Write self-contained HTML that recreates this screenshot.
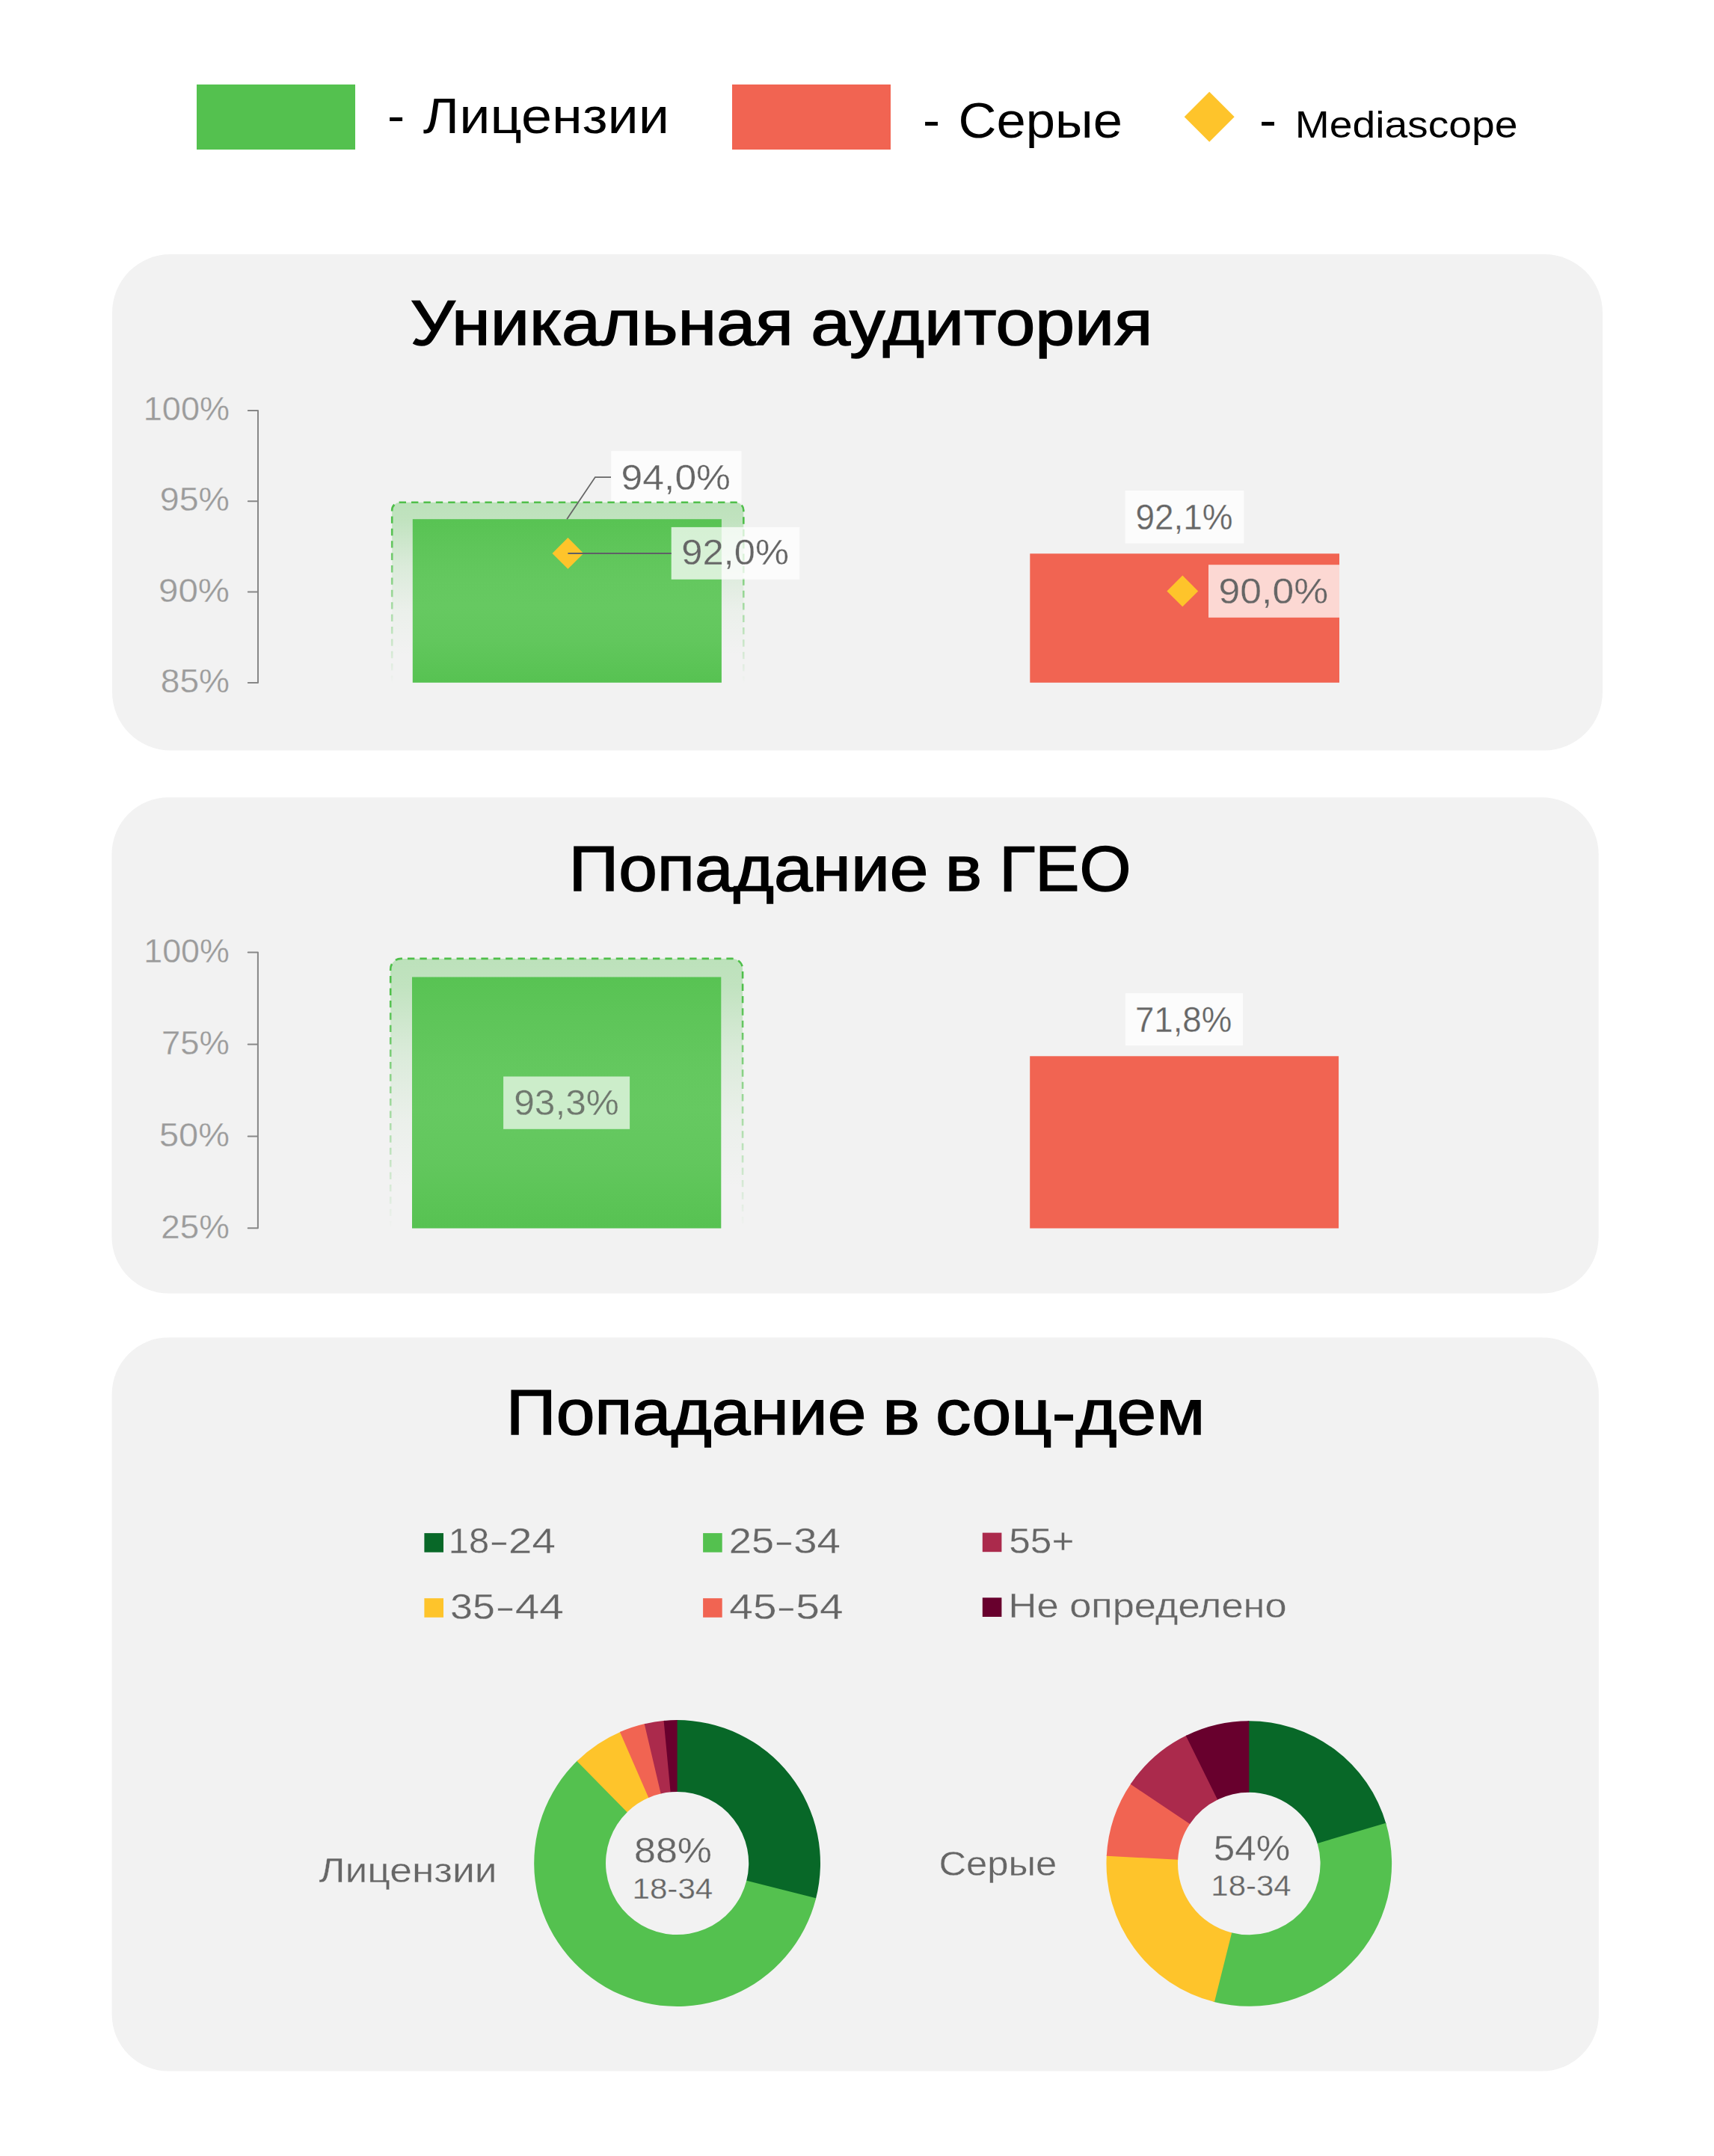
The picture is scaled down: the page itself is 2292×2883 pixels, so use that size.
<!DOCTYPE html>
<html lang="ru">
<head>
<meta charset="utf-8">
<title>Уникальная аудитория</title>
<style>
html,body{margin:0;padding:0;background:#fff;}
body{width:2292px;height:2883px;overflow:hidden;}
svg{display:block;font-family:"Liberation Sans",sans-serif;}
</style>
</head>
<body>
<svg width="2292" height="2883" viewBox="0 0 2292 2883">
<defs>
<linearGradient id="halo" x1="0" y1="0" x2="0" y2="1">
<stop offset="0" stop-color="#54c14f" stop-opacity="0.34"/>
<stop offset="0.1" stop-color="#54c14f" stop-opacity="0.31"/>
<stop offset="0.35" stop-color="#54c14f" stop-opacity="0.15"/>
<stop offset="0.6" stop-color="#54c14f" stop-opacity="0.045"/>
<stop offset="0.85" stop-color="#54c14f" stop-opacity="0"/>
</linearGradient>
<linearGradient id="halos" x1="0" y1="0" x2="0" y2="1">
<stop offset="0" stop-color="#4fbf4a" stop-opacity="1"/>
<stop offset="0.12" stop-color="#4fbf4a" stop-opacity="1"/>
<stop offset="0.5" stop-color="#54c14f" stop-opacity="0.55"/>
<stop offset="1" stop-color="#54c14f" stop-opacity="0"/>
</linearGradient>
<linearGradient id="gbar" x1="0" y1="0" x2="0" y2="1">
<stop offset="0" stop-color="#58c353"/>
<stop offset="0.16" stop-color="#5ec559"/>
<stop offset="0.37" stop-color="#64c85f"/>
<stop offset="0.53" stop-color="#66c961"/>
<stop offset="0.74" stop-color="#62c75d"/>
<stop offset="0.9" stop-color="#5bc456"/>
<stop offset="1" stop-color="#57c252"/>
</linearGradient>
<linearGradient id="bg92" gradientUnits="userSpaceOnUse" x1="897.7" y1="0" x2="1069.2" y2="0">
<stop offset="0" stop-color="#d7f1d6"/><stop offset="0.3918" stop-color="#d7f1d6"/>
<stop offset="0.3918" stop-color="#f3f9f3"/><stop offset="0.5633" stop-color="#f3f9f3"/>
<stop offset="0.5633" stop-color="#fcfcfc"/><stop offset="1" stop-color="#fcfcfc"/>
</linearGradient>
</defs>

<rect x="263" y="113" width="212" height="87" fill="#54c14f"/>
<text y="178.00" fill="#000"><tspan x="518.01" y="176.70" font-size="64" textLength="23.19" lengthAdjust="spacingAndGlyphs">-</tspan> <tspan x="565.85" y="178.00" font-size="66.5" textLength="329.25" lengthAdjust="spacingAndGlyphs">Лицензии</tspan></text>
<rect x="979" y="113" width="212" height="87" fill="#f16452"/>
<text y="184.00" fill="#000"><tspan x="1233.92" y="182.90" font-size="64" textLength="23.05" lengthAdjust="spacingAndGlyphs">-</tspan> <tspan x="1281.41" y="184.00" font-size="66.5" textLength="219.52" lengthAdjust="spacingAndGlyphs">Серые</tspan></text>
<path d="M1617.2 122.8L1650.7 156.3L1617.2 189.8L1583.7 156.3Z" fill="#fec42b"/>
<text y="184.00" fill="#000"><tspan x="1683.92" y="182.90" font-size="64" textLength="23.05" lengthAdjust="spacingAndGlyphs">-</tspan> <tspan x="1731.77" y="184.00" font-size="50.5" textLength="297.68" lengthAdjust="spacingAndGlyphs">Mediascope</tspan></text>
<rect x="150" y="340" width="1993" height="663.4" rx="78" fill="#f2f2f2"/>
<rect x="149.4" y="1066.3" width="1988.3" height="663.3" rx="76" fill="#f2f2f2"/>
<rect x="149.6" y="1788.4" width="1988.3" height="981.2" rx="76" fill="#f2f2f2"/>
<text y="461.15" font-size="84.7" fill="#000" stroke="#000" stroke-width="1.5" stroke-linejoin="miter"><tspan x="548.85" textLength="512.07" lengthAdjust="spacingAndGlyphs">Уникальная</tspan> <tspan x="1084.36" textLength="457.20" lengthAdjust="spacingAndGlyphs">аудитория</tspan></text>
<text y="1190.75" font-size="84.7" fill="#000" stroke="#000" stroke-width="1.5" stroke-linejoin="miter"><tspan x="760.42" textLength="481.06" lengthAdjust="spacingAndGlyphs">Попадание</tspan> <tspan x="1263.72" textLength="49.26" lengthAdjust="spacingAndGlyphs">в</tspan> <tspan x="1336.28" textLength="176.12" lengthAdjust="spacingAndGlyphs">ГЕО</tspan></text>
<text y="1918.05" font-size="84.7" fill="#000" stroke="#000" stroke-width="1.5" stroke-linejoin="miter"><tspan x="676.81" textLength="481.67" lengthAdjust="spacingAndGlyphs">Попадание</tspan> <tspan x="1180.25" textLength="49.77" lengthAdjust="spacingAndGlyphs">в</tspan> <tspan x="1251.11" textLength="360.39" lengthAdjust="spacingAndGlyphs">соц-дем</tspan></text>
<path d="M331.8 548.9H345.0V913.0H331.8M331.8 670.3H345.0M331.8 791.6H345.0" fill="none" stroke="#878787" stroke-width="2" stroke-linejoin="round" stroke-linecap="round"/>
<text x="191.82" y="561.85" font-size="44.63" fill="#9b9b9b" font-weight="normal" textLength="115.13" lengthAdjust="spacingAndGlyphs" stroke="#f2f2f2" stroke-width="0.3">100%</text>
<text x="213.87" y="683.25" font-size="44.63" fill="#9b9b9b" font-weight="normal" textLength="93.14" lengthAdjust="spacingAndGlyphs" stroke="#f2f2f2" stroke-width="0.3">95%</text>
<text x="212.13" y="804.55" font-size="44.63" fill="#9b9b9b" font-weight="normal" textLength="94.91" lengthAdjust="spacingAndGlyphs" stroke="#f2f2f2" stroke-width="0.3">90%</text>
<text x="214.75" y="925.95" font-size="44.63" fill="#9b9b9b" font-weight="normal" textLength="92.25" lengthAdjust="spacingAndGlyphs" stroke="#f2f2f2" stroke-width="0.3">85%</text>
<rect x="817.2" y="603.1" width="174.3" height="69.3" fill="#fff" fill-opacity="0.75"/>
<path d="M524.2 913V682.3a10.5 10.5 0 0 1 10.5 -10.5H983.8a10.5 10.5 0 0 1 10.5 10.5V913Z" fill="url(#halo)"/><path d="M524.2 913V682.3a10.5 10.5 0 0 1 10.5 -10.5H983.8a10.5 10.5 0 0 1 10.5 10.5V913" fill="none" stroke="url(#halos)" stroke-width="2.6" stroke-dasharray="9.4 7"/>
<rect x="551.8" y="694.2" width="413.1" height="218.6" fill="url(#gbar)"/>
<rect x="1377.3" y="740.3" width="413.7" height="172.5" fill="#f16452"/>
<path d="M758.1 694.2L795.9 638.1H817" fill="none" stroke="#666" stroke-width="1.8"/>
<text x="830.63" y="654.75" font-size="47.93" fill="#666666" font-weight="normal" textLength="146.36" lengthAdjust="spacingAndGlyphs" stroke="#fcfcfc" stroke-width="0.3">94,0%</text>
<rect x="897.7" y="704.9" width="171.5" height="69.9" fill="#fff" fill-opacity="0.75"/>
<path d="M759.4 719.0L780.3 739.9L759.4 760.8L738.5 739.9Z" fill="#fec42b"/>
<path d="M759.4 740H897.7" fill="none" stroke="#5f5f66" stroke-width="2"/>
<text x="911.27" y="755.15" font-size="47.93" fill="#666666" font-weight="normal" textLength="143.68" lengthAdjust="spacingAndGlyphs" stroke="url(#bg92)" stroke-width="0.3">92,0%</text>
<rect x="1504.6" y="656" width="158.7" height="70.6" fill="#fff" fill-opacity="0.75"/>
<text x="1518.40" y="708.35" font-size="47.93" fill="#666666" font-weight="normal" textLength="130.09" lengthAdjust="spacingAndGlyphs" stroke="#fcfcfc" stroke-width="0.3">92,1%</text>
<rect x="1616" y="755.2" width="175.0" height="70.6" fill="#fff" fill-opacity="0.75"/>
<path d="M1581.3 769.5L1602.2 790.4L1581.3 811.3L1560.4 790.4Z" fill="#fec42b"/>
<text x="1629.63" y="807.15" font-size="47.93" fill="#666666" font-weight="normal" textLength="146.46" lengthAdjust="spacingAndGlyphs" stroke="#fcd8d4" stroke-width="0.3">90,0%</text>
<path d="M331.7 1273.6H344.9V1642.35H331.7M331.7 1396.5H344.9M331.7 1519.4H344.9" fill="none" stroke="#878787" stroke-width="2" stroke-linejoin="round" stroke-linecap="round"/>
<text x="192.24" y="1286.75" font-size="44.63" fill="#9b9b9b" font-weight="normal" textLength="114.61" lengthAdjust="spacingAndGlyphs" stroke="#f2f2f2" stroke-width="0.3">100%</text>
<text x="216.02" y="1409.65" font-size="44.63" fill="#9b9b9b" font-weight="normal" textLength="90.84" lengthAdjust="spacingAndGlyphs" stroke="#f2f2f2" stroke-width="0.3">75%</text>
<text x="212.97" y="1532.55" font-size="44.63" fill="#9b9b9b" font-weight="normal" textLength="93.95" lengthAdjust="spacingAndGlyphs" stroke="#f2f2f2" stroke-width="0.3">50%</text>
<text x="215.35" y="1655.50" font-size="44.63" fill="#9b9b9b" font-weight="normal" textLength="91.53" lengthAdjust="spacingAndGlyphs" stroke="#f2f2f2" stroke-width="0.3">25%</text>
<path d="M522.2 1642.5V1295.9a14 14 0 0 1 14 -14H979.1a14 14 0 0 1 14 14V1642.5Z" fill="url(#halo)"/><path d="M522.2 1642.5V1295.9a14 14 0 0 1 14 -14H979.1a14 14 0 0 1 14 14V1642.5" fill="none" stroke="url(#halos)" stroke-width="2.6" stroke-dasharray="9.4 7"/>
<rect x="551" y="1306.5" width="413.3" height="336" fill="url(#gbar)"/>
<rect x="1377.2" y="1412.3" width="412.9" height="230.2" fill="#f16452"/>
<rect x="673.1" y="1439.5" width="169.0" height="70.3" fill="#fff" fill-opacity="0.67"/>
<text x="687.33" y="1491.35" font-size="47.93" fill="#6f786e" font-weight="normal" textLength="140.39" lengthAdjust="spacingAndGlyphs" stroke="#cdedcb" stroke-width="0.3">93,3%</text>
<rect x="1504.9" y="1328.1" width="157.1" height="70.0" fill="#fff" fill-opacity="0.75"/>
<text x="1517.91" y="1380.15" font-size="47.93" fill="#666666" font-weight="normal" textLength="129.37" lengthAdjust="spacingAndGlyphs" stroke="#fcfcfc" stroke-width="0.3">71,8%</text>
<rect x="567.4" y="2050.1" width="25.6" height="25.6" fill="#086828"/>
<text y="2077.45" fill="#666666" stroke="#f2f2f2" stroke-width="0.3"><tspan x="599.73" font-size="47.93" textLength="54.34" lengthAdjust="spacingAndGlyphs">18</tspan><tspan x="654.08" font-size="47.93" textLength="26.73" lengthAdjust="spacingAndGlyphs">-</tspan><tspan x="680.01" font-size="47.93" textLength="62.79" lengthAdjust="spacingAndGlyphs">24</tspan></text>
<rect x="940.1" y="2050.1" width="25.6" height="25.6" fill="#54c14f"/>
<text y="2077.45" fill="#666666" stroke="#f2f2f2" stroke-width="0.3"><tspan x="974.82" font-size="47.93" textLength="60.30" lengthAdjust="spacingAndGlyphs">25</tspan><tspan x="1035.08" font-size="47.93" textLength="26.73" lengthAdjust="spacingAndGlyphs">-</tspan><tspan x="1061.20" font-size="47.93" textLength="62.70" lengthAdjust="spacingAndGlyphs">34</tspan></text>
<rect x="1313.8" y="2049.6" width="25.6" height="25.6" fill="#ab2a4c"/>
<text x="1349.29" y="2076.55" font-size="47.93" fill="#666666" font-weight="normal" textLength="87.09" lengthAdjust="spacingAndGlyphs" stroke="#f2f2f2" stroke-width="0.3">55+</text>
<rect x="567.4" y="2137.2" width="25.6" height="25.6" fill="#fec42b"/>
<text y="2164.75" fill="#666666" stroke="#f2f2f2" stroke-width="0.3"><tspan x="602.10" font-size="47.93" textLength="59.81" lengthAdjust="spacingAndGlyphs">35</tspan><tspan x="662.20" font-size="47.93" textLength="26.60" lengthAdjust="spacingAndGlyphs">-</tspan><tspan x="688.81" font-size="47.93" textLength="65.16" lengthAdjust="spacingAndGlyphs">44</tspan></text>
<rect x="940.1" y="2137.2" width="25.6" height="25.6" fill="#f16452"/>
<text y="2164.75" fill="#666666" stroke="#f2f2f2" stroke-width="0.3"><tspan x="975.35" font-size="47.93" textLength="63.08" lengthAdjust="spacingAndGlyphs">45</tspan><tspan x="1038.24" font-size="47.93" textLength="26.33" lengthAdjust="spacingAndGlyphs">-</tspan><tspan x="1064.27" font-size="47.93" textLength="63.24" lengthAdjust="spacingAndGlyphs">54</tspan></text>
<rect x="1313.8" y="2136.4" width="25.6" height="25.6" fill="#68002d"/>
<text x="1348.58" y="2163.15" font-size="46.43" fill="#666666" font-weight="normal" textLength="372.15" lengthAdjust="spacingAndGlyphs" stroke="#f2f2f2" stroke-width="0.3">Не определено</text>
<path d="M903.93 2300.11A191.4 191.4 0 0 1 1090.82 2539.75L998.11 2515.60A95.6 95.6 0 0 0 904.77 2395.90Z" fill="#086828"/>
<path d="M1091.23 2538.13A191.4 191.4 0 1 1 772.64 2353.82L839.19 2422.73A95.6 95.6 0 1 0 998.32 2514.79Z" fill="#54c14f"/>
<path d="M771.45 2354.98A191.4 191.4 0 0 1 830.51 2315.45L868.09 2403.57A95.6 95.6 0 0 0 838.59 2423.31Z" fill="#fec42b"/>
<path d="M828.97 2316.11A191.4 191.4 0 0 1 863.36 2304.82L884.50 2398.26A95.6 95.6 0 0 0 867.33 2403.90Z" fill="#f16452"/>
<path d="M861.73 2305.20A191.4 191.4 0 0 1 889.25 2300.80L897.43 2396.25A95.6 95.6 0 0 0 883.69 2398.44Z" fill="#ab2a4c"/>
<path d="M887.59 2300.95A191.4 191.4 0 0 1 905.60 2300.10L905.60 2395.90A95.6 95.6 0 0 0 896.60 2396.32Z" fill="#68002d"/>
<text x="426.48" y="2517.45" font-size="46.83" fill="#666666" font-weight="normal" textLength="238.16" lengthAdjust="spacingAndGlyphs" stroke="#f2f2f2" stroke-width="0.3">Лицензии</text>
<text x="847.99" y="2491.35" font-size="47.93" fill="#666666" font-weight="normal" textLength="104.01" lengthAdjust="spacingAndGlyphs" stroke="#f2f2f2" stroke-width="0.3">88%</text>
<text x="845.44" y="2538.75" font-size="38.43" fill="#666666" font-weight="normal" textLength="107.85" lengthAdjust="spacingAndGlyphs" stroke="#f2f2f2" stroke-width="0.3">18-34</text>
<path d="M1668.63 2301.21A190.8 190.8 0 0 1 1853.71 2439.41L1761.91 2465.73A95.3 95.3 0 0 0 1669.47 2396.70Z" fill="#086828"/>
<path d="M1853.24 2437.81A190.8 190.8 0 0 1 1622.37 2676.68L1646.36 2584.24A95.3 95.3 0 0 0 1761.68 2464.93Z" fill="#54c14f"/>
<path d="M1623.98 2677.09A190.8 190.8 0 0 1 1479.88 2480.02L1575.19 2486.02A95.3 95.3 0 0 0 1647.16 2584.45Z" fill="#fec42b"/>
<path d="M1479.78 2481.68A190.8 190.8 0 0 1 1512.68 2384.48L1591.57 2438.30A95.3 95.3 0 0 0 1575.14 2486.85Z" fill="#f16452"/>
<path d="M1511.75 2385.86A190.8 190.8 0 0 1 1587.26 2320.22L1628.82 2406.20A95.3 95.3 0 0 0 1591.11 2438.99Z" fill="#ab2a4c"/>
<path d="M1585.76 2320.95A190.8 190.8 0 0 1 1670.30 2301.20L1670.30 2396.70A95.3 95.3 0 0 0 1628.08 2406.56Z" fill="#68002d"/>
<text x="1255.47" y="2508.45" font-size="46.83" fill="#666666" font-weight="normal" textLength="157.83" lengthAdjust="spacingAndGlyphs" stroke="#f2f2f2" stroke-width="0.3">Серые</text>
<text x="1622.70" y="2488.05" font-size="47.93" fill="#666666" font-weight="normal" textLength="102.48" lengthAdjust="spacingAndGlyphs" stroke="#f2f2f2" stroke-width="0.3">54%</text>
<text x="1619.36" y="2535.25" font-size="38.43" fill="#666666" font-weight="normal" textLength="107.22" lengthAdjust="spacingAndGlyphs" stroke="#f2f2f2" stroke-width="0.3">18-34</text>
</svg>
</body>
</html>
